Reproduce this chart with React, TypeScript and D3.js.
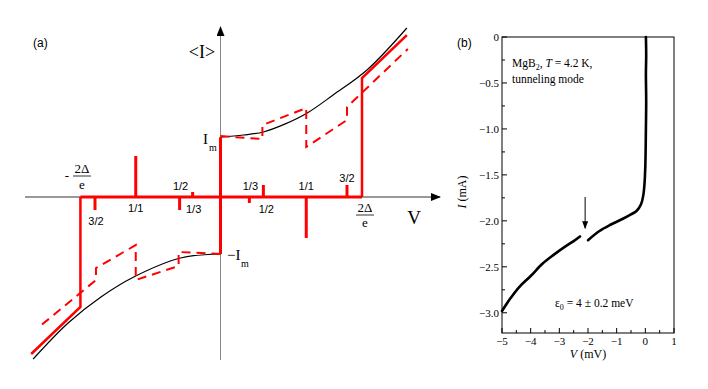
import React from "react";
import * as d3 from "d3";

// ---------- Panel (a) data (V in units of 2Δ/e, I in units of Im) ----------
const upperBlackV = [0, 0.162, 0.303, 0.458, 0.613, 0.796, 1.035, 1.317];
const upperBlackI = [1.034, 1.069, 1.121, 1.26, 1.448, 1.759, 2.19, 2.914];
const lowerBlackV = [0, -0.282, -0.613, -0.845, -1.077, -1.324];
const lowerBlackI = [-0.983, -1.052, -1.379, -1.724, -2.172, -2.793];

const upperSolidV = [1.0, 1.0, 1.317];
const upperSolidI = [0, 2.05, 2.79];
const lowerSolidV = [-0.99, -0.99, -1.338];
const lowerSolidI = [0, -1.897, -2.707];

const upperDashV = [0, 0.296, 0.296, 0.606, 0.606, 0.894, 0.894, 1.324];
const upperDashI = [1.05, 1.0, 1.24, 1.534, 0.862, 1.328, 1.552, 2.552];
const lowerDashV = [0, -0.296, -0.296, -0.599, -0.599, -0.88, -0.88, -1.282];
const lowerDashI = [-0.983, -0.948, -1.19, -1.431, -0.828, -1.224, -1.431, -2.241];

const spikeV = [-0.887, -0.599, -0.289, -0.197, 0.204, 0.303, 0.606, 0.894];
const spikeI = [-0.224, 0.707, -0.224, 0.086, -0.103, 0.207, -0.707, 0.207];
const spikeLabels = ["3/2", "1/1", "1/3", "1/2", "1/2", "1/3", "1/1", "3/2"];
const labelV = [-0.88, -0.599, -0.19, -0.282, 0.324, 0.211, 0.606, 0.894];
const labelI = [-0.483, -0.259, -0.276, 0.121, -0.276, 0.121, 0.121, 0.259];

// ---------- Panel (b) data ----------
const leftV = [-5, -4.7, -4.4, -4.0, -3.6, -3.2, -2.8, -2.5, -2.28];
const leftI = [-2.98, -2.84, -2.72, -2.6, -2.47, -2.37, -2.28, -2.22, -2.17];
const rightV = [-2.0, -1.6, -1.2, -0.8, -0.5, -0.3, -0.15, -0.07, -0.03, 0.0, 0.02, 0.03, 0.02, 0.03, 0.02];
const rightI = [-2.21, -2.11, -2.04, -1.98, -1.93, -1.89, -1.82, -1.72, -1.6, -1.4, -1.0, -0.7, -0.4, -0.2, 0];
const xTicksB = [-5, -4, -3, -2, -1, 0, 1];
const xTickLabelsB = ["\u22125", "\u22124", "\u22123", "\u22122", "\u22121", "0", "1"];
const yTicksB = [0, -0.5, -1.0, -1.5, -2.0, -2.5, -3.0];
const yTickLabelsB = ["0", "\u22120.5", "\u22121.0", "\u22121.5", "\u22122.0", "\u22122.5", "\u22123.0"];
const arrowV = -2.1;
const arrowI = [-1.74, -2.08];

const RED = "#ff0000";

export default function App() {
  const xa = d3.scaleLinear().domain([-1, 1]).range([79, 362]);
  const ya = d3.scaleLinear().domain([0, 1]).range([197, 139]);
  const line = (vs: number[], is: number[], curve = d3.curveLinear) =>
    d3.line<number>().x((_, i) => xa(vs[i])).y((_, i) => ya(is[i])).curve(curve)(vs.map((v) => v)) || "";

  const xb = d3.scaleLinear().domain([-5, 1]).range([502, 674]);
  const yb = d3.scaleLinear().domain([0, -3.22]).range([37, 333]);
  const lineB = (vs: number[], is: number[]) =>
    d3.line<number>().x((_, i) => xb(vs[i])).y((_, i) => yb(is[i])).curve(d3.curveCatmullRom)(vs) || "";

  const serif = "'Liberation Serif', 'Times New Roman', serif";
  const sans = "'Liberation Sans', Arial, sans-serif";

  const minorX = d3.range(-5, 1.01, 0.5);
  const minorY = d3.range(0, -3.01, -0.25);

  return (
    <svg width={708} height={389} style={{ position: "absolute", left: 0, top: 0, background: "#fff" }}>
      <defs>
        <marker id="arr" markerWidth="10" markerHeight="8" refX="9" refY="4" orient="auto" markerUnits="userSpaceOnUse">
          <path d="M0,0 L10,4 L0,8 Z" fill="#000" />
        </marker>
        <marker id="arrB" markerWidth="8" markerHeight="8" refX="7" refY="4" orient="auto" markerUnits="userSpaceOnUse">
          <path d="M0,1 L8,4 L0,7 Z" fill="#000" />
        </marker>
      </defs>

      {/* ---------------- Panel (a) ---------------- */}
      <text x={33} y={47} fontFamily={sans} fontSize={12}>(a)</text>
      {/* axes */}
      <line x1={25} y1={ya(0)} x2={440} y2={ya(0)} stroke="#333" strokeWidth={1} markerEnd="url(#arr)" />
      <line x1={xa(0)} y1={360} x2={xa(0)} y2={27} stroke="#888" strokeWidth={1} markerEnd="url(#arr)" />

      {/* black curves */}
      <path d={line(upperBlackV, upperBlackI, d3.curveCatmullRom)} fill="none" stroke="#000" strokeWidth={1.2} />
      <path d={line(lowerBlackV, lowerBlackI, d3.curveCatmullRom)} fill="none" stroke="#000" strokeWidth={1.2} />

      {/* red dashed */}
      <path d={line(upperDashV, upperDashI)} fill="none" stroke={RED} strokeWidth={2} strokeDasharray="9,6" />
      <path d={line(lowerDashV, lowerDashI)} fill="none" stroke={RED} strokeWidth={2} strokeDasharray="9,6" />

      {/* red solid */}
      <path d={line(upperSolidV, upperSolidI)} fill="none" stroke={RED} strokeWidth={2.5} />
      <path d={line(lowerSolidV, lowerSolidI)} fill="none" stroke={RED} strokeWidth={2.5} />
      <line x1={xa(-0.99)} y1={ya(0)} x2={xa(1.0)} y2={ya(0)} stroke={RED} strokeWidth={3} />
      <line x1={xa(0)} y1={ya(1.03)} x2={xa(0)} y2={ya(-0.983)} stroke={RED} strokeWidth={3} />

      {/* spikes */}
      {spikeV.map((v, i) => (
        <line key={"s" + i} x1={xa(v)} y1={ya(0)} x2={xa(v)} y2={ya(spikeI[i])} stroke={RED} strokeWidth={3} />
      ))}
      {spikeLabels.map((t, i) => (
        <text key={"l" + i} x={xa(labelV[i])} y={ya(labelI[i])} textAnchor="middle" fontFamily={sans} fontSize={11}>
          {t}
        </text>
      ))}

      {/* labels */}
      <text x={202} y={58} textAnchor="middle" fontFamily={serif} fontSize={18}>&lt;I&gt;</text>
      <text x={203} y={144} fontFamily={serif} fontSize={15}>I</text>
      <text x={209} y={151} fontFamily={serif} fontSize={10}>m</text>
      <text x={227} y={260} fontFamily={serif} fontSize={15}>{"\u2212I"}</text>
      <text x={241} y={267} fontFamily={serif} fontSize={10}>m</text>
      <text x={414} y={224} textAnchor="middle" fontFamily={serif} fontSize={19}>V</text>
      {/* 2Δ/e */}
      <text x={365} y={212} textAnchor="middle" fontFamily={serif} fontSize={13}>{"2\u0394"}</text>
      <line x1={356} y1={215} x2={374} y2={215} stroke="#000" strokeWidth={0.8} />
      <text x={365} y={227} textAnchor="middle" fontFamily={serif} fontSize={13}>e</text>
      {/* -2Δ/e */}
      <text x={67} y={180} textAnchor="middle" fontFamily={serif} fontSize={13}>{"-"}</text>
      <text x={82} y={173} textAnchor="middle" fontFamily={serif} fontSize={13}>{"2\u0394"}</text>
      <line x1={73} y1={176} x2={91} y2={176} stroke="#000" strokeWidth={0.8} />
      <text x={82} y={189} textAnchor="middle" fontFamily={serif} fontSize={13}>e</text>

      {/* ---------------- Panel (b) ---------------- */}
      <text x={457} y={47} fontFamily={sans} fontSize={12}>(b)</text>
      <rect x={xb(-5)} y={yb(0)} width={xb(1) - xb(-5)} height={yb(-3.22) - yb(0)} fill="none" stroke="#000" strokeWidth={1} />
      {minorX.map((v, i) => {
        const major = Math.abs(v - Math.round(v)) < 1e-6;
        return <line key={"mx" + i} x1={xb(v)} x2={xb(v)} y1={yb(-3.22)} y2={yb(-3.22) - (major ? 5 : 3)} stroke="#000" strokeWidth={1} />;
      })}
      {minorY.map((v, i) => {
        const major = Math.abs(v * 2 - Math.round(v * 2)) < 1e-6;
        return <line key={"my" + i} x1={xb(-5)} x2={xb(-5) + (major ? 5 : 3)} y1={yb(v)} y2={yb(v)} stroke="#000" strokeWidth={1} />;
      })}
      {xTicksB.map((v, i) => (
        <text key={"xt" + i} x={xb(v)} y={345} textAnchor="middle" fontFamily={serif} fontSize={11}>
          {xTickLabelsB[i]}
        </text>
      ))}
      {yTicksB.map((v, i) => (
        <text key={"yt" + i} x={499} y={yb(v) + 4} textAnchor="end" fontFamily={serif} fontSize={11}>
          {yTickLabelsB[i]}
        </text>
      ))}
      <text x={588} y={358} textAnchor="middle" fontFamily={serif} fontSize={12}>
        <tspan fontStyle="italic">V</tspan> (mV)
      </text>
      <text transform="translate(466,192) rotate(-90)" textAnchor="middle" fontFamily={serif} fontSize={12}>
        <tspan fontStyle="italic">I</tspan> (mA)
      </text>

      <path d={lineB(leftV, leftI)} fill="none" stroke="#000" strokeWidth={2.6} strokeLinecap="round" />
      <path d={lineB(rightV, rightI)} fill="none" stroke="#000" strokeWidth={2.6} strokeLinecap="round" />
      <line x1={xb(arrowV)} y1={yb(arrowI[0])} x2={xb(arrowV)} y2={yb(arrowI[1])} stroke="#000" strokeWidth={1} markerEnd="url(#arrB)" />

      <text x={512} y={67} fontFamily={serif} fontSize={11.5}>
        MgB<tspan dy={3} fontSize={8}>2</tspan>
        <tspan dy={-3}>, </tspan>
        <tspan fontStyle="italic">T</tspan> = 4.2 K,
      </text>
      <text x={512} y={83} fontFamily={serif} fontSize={11.5}>tunneling mode</text>
      <text x={555} y={307} fontFamily={serif} fontSize={11.5}>
        {"\u03b5"}<tspan dy={3} fontSize={8}>0</tspan>
        <tspan dy={-3}> = 4 ± 0.2 meV</tspan>
      </text>
    </svg>
  );
}
